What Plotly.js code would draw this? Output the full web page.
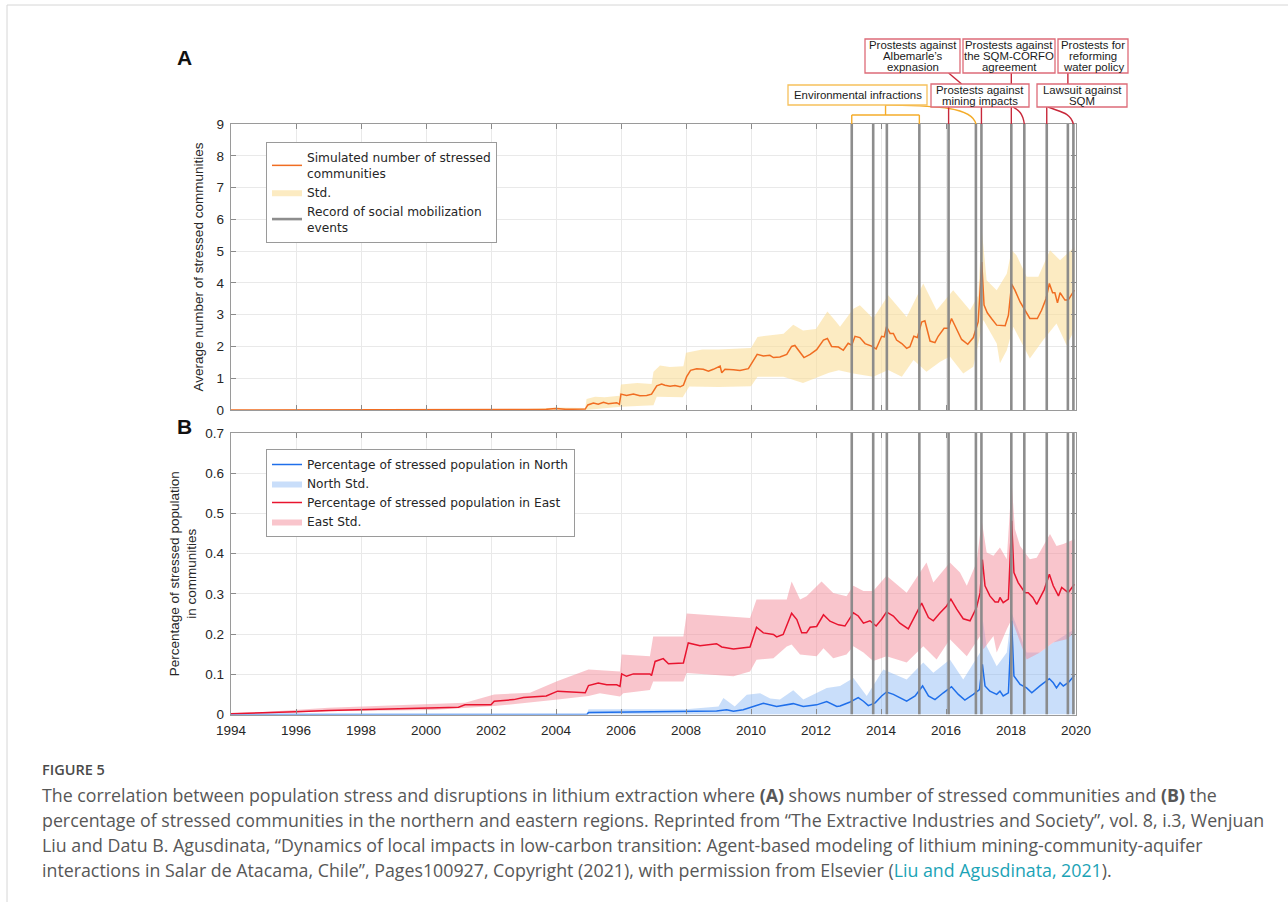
<!DOCTYPE html>
<html>
<head>
<meta charset="utf-8">
<script src="https://cdn.plot.ly/plotly-3.0.1.min.js"></script>
<style>
html,body{margin:0;padding:0;background:#fff;}
#chart{width:1288px;height:902px;}
</style>
</head>
<body>
<div id="chart"></div>
<script>
// ---------------- DATA ----------------
// Panel A: simulated average number of stressed communities
const aYears = [1994.0, 2002.5, 2003.7, 2004.0, 2004.3, 2004.9, 2004.98, 2005.15, 2005.3, 2005.46, 2005.61, 2005.87, 2005.95, 2006.0, 2006.17, 2006.38, 2006.58, 2006.79, 2006.94, 2007.1, 2007.25, 2007.35, 2007.51, 2007.66, 2007.82, 2007.92, 2008.02, 2008.14, 2008.33, 2008.53, 2008.69, 2008.84, 2009.05, 2009.1, 2009.2, 2009.46, 2009.66, 2009.92, 2010.07, 2010.19, 2010.38, 2010.58, 2010.69, 2010.89, 2011.1, 2011.25, 2011.35, 2011.51, 2011.63, 2011.82, 2012.02, 2012.23, 2012.35, 2012.48, 2012.69, 2012.84, 2012.99, 2013.10, 2013.2, 2013.35, 2013.51, 2013.71, 2013.85, 2014.02, 2014.1, 2014.17, 2014.28, 2014.38, 2014.48, 2014.64, 2014.79, 2014.89, 2015.01, 2015.12, 2015.25, 2015.35, 2015.51, 2015.66, 2015.76, 2015.94, 2016.07, 2016.17, 2016.31, 2016.48, 2016.67, 2016.84, 2016.99, 2017.1, 2017.17, 2017.27, 2017.40, 2017.56, 2017.82, 2017.92, 2018.02, 2018.12, 2018.28, 2018.43, 2018.58, 2018.81, 2018.94, 2019.08, 2019.18, 2019.28, 2019.35, 2019.43, 2019.51, 2019.66, 2019.76, 2019.95];
const aMean = [0, 0, 0.02, 0.05, 0.02, 0.03, 0.16, 0.22, 0.18, 0.24, 0.2, 0.23, 0.18, 0.5, 0.46, 0.5, 0.45, 0.46, 0.5, 0.76, 0.82, 0.78, 0.75, 0.77, 0.73, 0.78, 1.05, 1.25, 1.3, 1.28, 1.22, 1.28, 1.38, 1.17, 1.28, 1.27, 1.24, 1.3, 1.55, 1.75, 1.7, 1.72, 1.65, 1.67, 1.75, 2.0, 2.03, 1.8, 1.65, 1.75, 1.9, 2.2, 2.25, 2.0, 1.98, 1.88, 2.1, 2.04, 2.32, 2.28, 2.09, 2.01, 1.92, 2.32, 2.3, 2.62, 2.41, 2.41, 2.2, 2.09, 1.94, 1.99, 2.32, 2.28, 2.77, 2.81, 2.17, 2.12, 2.32, 2.57, 2.57, 2.88, 2.57, 2.22, 2.07, 2.28, 2.77, 4.66, 3.3, 3.06, 2.88, 2.67, 2.65, 2.98, 3.96, 3.77, 3.4, 3.14, 2.88, 2.88, 3.14, 3.51, 3.98, 3.69, 3.69, 3.37, 3.69, 3.46, 3.46, 3.77];
const aUpYears = [1994, 2002.5, 2003.5, 2004.0, 2004.9, 2004.94, 2005.2, 2005.5, 2005.95, 2006.0, 2006.5, 2006.94, 2007.0, 2007.2, 2007.5, 2007.92, 2008.0, 2008.5, 2009.0, 2009.5, 2010.0, 2010.2, 2010.6, 2011.0, 2011.3, 2011.6, 2012.0, 2012.35, 2012.6, 2012.74, 2013.15, 2013.35, 2013.76, 2014.22, 2014.79, 2015.3, 2015.71, 2016.22, 2016.74, 2016.99, 2017.1, 2017.25, 2017.56, 2017.87, 2018.02, 2018.17, 2018.48, 2018.84, 2019.2, 2019.51, 2019.95];
const aUpper = [0, 0.01, 0.05, 0.08, 0.06, 0.35, 0.42, 0.4, 0.45, 0.8, 0.85, 0.82, 1.2, 1.4, 1.35, 1.38, 1.8, 1.9, 1.9, 1.92, 1.95, 2.3, 2.35, 2.4, 2.68, 2.5, 2.55, 3.1, 2.8, 2.62, 3.19, 3.3, 2.88, 3.61, 2.93, 3.98, 3.14, 3.77, 3.14, 3.6, 5.68, 4.08, 3.77, 4.29, 5.03, 4.87, 4.19, 4.19, 5.03, 4.71, 5.13];
const aLoYears = [1994, 2004.9, 2005.0, 2006.0, 2007.0, 2007.1, 2007.9, 2008.1, 2009.0, 2010.0, 2010.2, 2011.0, 2011.6, 2012.0, 2012.4, 2012.7, 2013.15, 2013.76, 2014.22, 2014.64, 2015.0, 2015.4, 2015.82, 2016.12, 2016.53, 2016.84, 2017.15, 2017.56, 2017.66, 2017.87, 2018.07, 2018.58, 2018.99, 2019.4, 2019.71, 2019.95];
const aLower = [0, 0, 0, 0.1, 0.15, 0.42, 0.4, 0.74, 0.72, 0.75, 1.05, 1.05, 0.85, 1.0, 1.17, 1.25, 1.15, 1.05, 1.26, 1.05, 1.57, 1.2, 1.52, 1.68, 1.15, 1.36, 2.83, 2.09, 1.47, 1.88, 2.62, 1.62, 2.2, 2.72, 2.04, 2.51];

// Panel B: East
const eYears = [1994.0, 1995.0, 1996.0, 1997.0, 1998.0, 1999.0, 2000.0, 2001.0, 2001.2, 2002.0, 2002.1, 2002.7, 2003.0, 2003.7, 2004.05, 2004.5, 2004.9, 2005.0, 2005.3, 2005.56, 2005.87, 2005.97, 2006.02, 2006.17, 2006.38, 2006.89, 2006.94, 2007.05, 2007.3, 2007.46, 2007.92, 2008.07, 2008.43, 2008.94, 2009.1, 2009.46, 2009.97, 2010.17, 2010.38, 2010.69, 2010.79, 2010.99, 2011.25, 2011.41, 2011.56, 2011.71, 2011.82, 2012.02, 2012.23, 2012.43, 2012.69, 2012.89, 2013.15, 2013.30, 2013.46, 2013.66, 2013.85, 2014.02, 2014.17, 2014.38, 2014.58, 2014.84, 2015.05, 2015.25, 2015.46, 2015.61, 2015.82, 2016.02, 2016.15, 2016.33, 2016.53, 2016.74, 2016.94, 2017.05, 2017.12, 2017.2, 2017.35, 2017.51, 2017.61, 2017.66, 2017.76, 2017.92, 2018.02, 2018.09, 2018.22, 2018.43, 2018.53, 2018.67, 2018.79, 2019.02, 2019.18, 2019.3, 2019.46, 2019.56, 2019.76, 2019.95];
const eMean = [0.002, 0.004, 0.007, 0.01, 0.012, 0.014, 0.016, 0.018, 0.024, 0.024, 0.033, 0.037, 0.042, 0.046, 0.058, 0.055, 0.054, 0.072, 0.078, 0.074, 0.074, 0.07, 0.101, 0.095, 0.101, 0.101, 0.097, 0.132, 0.139, 0.126, 0.128, 0.178, 0.171, 0.176, 0.168, 0.163, 0.168, 0.217, 0.203, 0.199, 0.193, 0.199, 0.252, 0.236, 0.203, 0.203, 0.217, 0.219, 0.248, 0.232, 0.223, 0.22, 0.253, 0.245, 0.227, 0.233, 0.22, 0.237, 0.255, 0.245, 0.227, 0.213, 0.245, 0.277, 0.241, 0.233, 0.253, 0.27, 0.287, 0.262, 0.238, 0.233, 0.266, 0.303, 0.385, 0.32, 0.295, 0.28, 0.28, 0.291, 0.278, 0.287, 0.482, 0.353, 0.328, 0.303, 0.303, 0.291, 0.274, 0.31, 0.349, 0.32, 0.295, 0.316, 0.303, 0.324];
const eUpYears = [1994, 1995, 1997, 1999, 2001.2, 2002.1, 2003.2, 2004.05, 2005.0, 2005.97, 2006.02, 2006.89, 2006.99, 2007.92, 2008.02, 2009.97, 2010.17, 2011.1, 2011.25, 2011.51, 2011.71, 2012.17, 2012.53, 2012.94, 2013.15, 2013.46, 2013.76, 2014.17, 2014.79, 2015.4, 2015.61, 2016.12, 2016.43, 2016.64, 2016.94, 2017.1, 2017.25, 2017.46, 2017.66, 2017.87, 2018.02, 2018.12, 2018.28, 2018.58, 2018.79, 2019.2, 2019.4, 2019.61, 2019.95];
const eUpper = [0.003, 0.006, 0.017, 0.022, 0.029, 0.05, 0.054, 0.083, 0.112, 0.107, 0.149, 0.145, 0.194, 0.194, 0.251, 0.24, 0.286, 0.286, 0.331, 0.286, 0.294, 0.331, 0.302, 0.294, 0.32, 0.307, 0.307, 0.345, 0.303, 0.378, 0.328, 0.378, 0.353, 0.32, 0.378, 0.482, 0.403, 0.395, 0.415, 0.386, 0.577, 0.461, 0.419, 0.386, 0.39, 0.449, 0.419, 0.424, 0.436];
const eLoYears = [1994, 1997, 2000.2, 2002.1, 2004.05, 2005.0, 2005.35, 2005.97, 2006.07, 2006.89, 2006.99, 2007.92, 2008.02, 2009.46, 2009.97, 2010.17, 2010.69, 2011.1, 2011.25, 2011.51, 2012.02, 2012.23, 2012.53, 2012.94, 2013.15, 2013.46, 2013.76, 2014.17, 2014.79, 2015.3, 2015.71, 2016.12, 2016.64, 2017.05, 2017.15, 2017.46, 2017.56, 2017.87, 2018.02, 2018.12, 2018.48, 2018.89, 2019.3, 2019.71, 2019.95];
const eLower = [0, 0.008, 0.011, 0.021, 0.037, 0.046, 0.053, 0.045, 0.053, 0.061, 0.082, 0.082, 0.103, 0.095, 0.107, 0.136, 0.14, 0.169, 0.174, 0.149, 0.145, 0.165, 0.14, 0.149, 0.17, 0.154, 0.133, 0.145, 0.129, 0.17, 0.137, 0.187, 0.145, 0.195, 0.162, 0.195, 0.154, 0.212, 0.237, 0.212, 0.137, 0.154, 0.179, 0.187, 0.203];

// Panel B: North
const nYears = [1994, 2004.95, 2005.0, 2008.0, 2008.94, 2009.25, 2009.46, 2009.76, 2010.17, 2010.38, 2010.79, 2011.1, 2011.3, 2011.61, 2012.02, 2012.33, 2012.64, 2012.74, 2013.05, 2013.3, 2013.46, 2013.61, 2013.82, 2014.02, 2014.17, 2014.38, 2014.79, 2015.05, 2015.28, 2015.46, 2015.66, 2015.92, 2016.17, 2016.38, 2016.58, 2016.84, 2017.03, 2017.12, 2017.2, 2017.35, 2017.56, 2017.66, 2017.76, 2017.92, 2018.02, 2018.09, 2018.28, 2018.48, 2018.64, 2018.89, 2019.18, 2019.3, 2019.4, 2019.51, 2019.61, 2019.76, 2019.95];
const nMean = [0, 0, 0.005, 0.007, 0.009, 0.012, 0.008, 0.012, 0.022, 0.028, 0.02, 0.024, 0.027, 0.02, 0.024, 0.032, 0.02, 0.021, 0.031, 0.042, 0.033, 0.022, 0.029, 0.046, 0.056, 0.05, 0.033, 0.046, 0.071, 0.046, 0.037, 0.054, 0.069, 0.05, 0.036, 0.05, 0.062, 0.125, 0.071, 0.058, 0.05, 0.058, 0.046, 0.054, 0.233, 0.096, 0.075, 0.066, 0.054, 0.071, 0.089, 0.079, 0.066, 0.079, 0.071, 0.079, 0.097];
const nUpYears = [1994, 2004.95, 2005.0, 2008.0, 2009.0, 2009.15, 2009.5, 2009.87, 2010.28, 2010.59, 2010.89, 2011.3, 2011.61, 2012.33, 2012.74, 2013.15, 2013.56, 2014.07, 2014.79, 2015.3, 2015.61, 2016.12, 2016.53, 2017.05, 2017.13, 2017.25, 2017.56, 2017.87, 2018.02, 2018.17, 2018.48, 2018.89, 2019.3, 2019.95];
const nUpper = [0, 0.001, 0.013, 0.013, 0.02, 0.041, 0.02, 0.049, 0.053, 0.04, 0.037, 0.06, 0.037, 0.066, 0.071, 0.091, 0.046, 0.112, 0.087, 0.129, 0.104, 0.137, 0.087, 0.154, 0.237, 0.17, 0.12, 0.154, 0.253, 0.22, 0.154, 0.154, 0.179, 0.212];
const nLoYears = [1994, 2019.95];
const nLower = [0, 0];

// Recorded social mobilization events (decimal years)
const eventYears = [2013.10, 2013.76, 2014.18, 2015.18, 2016.08, 2016.92, 2017.09, 2018.01, 2018.41, 2019.10, 2019.75, 2019.92];

// Tick labels
const xTickVals = [1994, 1996, 1998, 2000, 2002, 2004, 2006, 2008, 2010, 2012, 2014, 2016, 2018, 2020];
const aTickVals = [0, 1, 2, 3, 4, 5, 6, 7, 8, 9];
const bTickVals = [0, 0.1, 0.2, 0.3, 0.4, 0.5, 0.6, 0.7];
const bTickText = ['0', '0.1', '0.2', '0.3', '0.4', '0.5', '0.6', '0.7'];

// ---------------- HELPERS ----------------
const W = 1288, H = 902;
const px = x => x / W;
const py = y => 1 - y / H;
const FONT = 'Liberation Sans, Arial, sans-serif';
const LEGFONT = 'DejaVu Sans, Liberation Sans, sans-serif';
const CAPFONT = 'Open Sans, Noto Sans, sans-serif';

function band(xu, yu, xl, yl) {
  return { x: xu.concat(xl.slice().reverse()), y: yu.concat(yl.slice().reverse()) };
}
function eventXY(ymax) {
  const x = [], y = [];
  eventYears.forEach(e => { x.push(e, e, null); y.push(0, ymax, null); });
  return { x, y };
}

const ORANGE = '#f06d22';
const BLUE = '#1f6fea';
const RED = '#e8142f';
const EVCOL = 'rgba(135,135,135,0.95)';

const bandA = band(aUpYears, aUpper, aLoYears, aLower);
const bandN = band(nUpYears, nUpper, nLoYears, nLower);
const bandE = band(eUpYears, eUpper, eLoYears, eLower);
const evA = eventXY(9);
const evB = eventXY(0.7);

const traces = [
  { x: bandA.x, y: bandA.y, xaxis: 'x', yaxis: 'y', type: 'scatter', mode: 'lines', fill: 'toself',
    fillcolor: 'rgba(250,222,153,0.6)', line: { width: 0 }, name: 'Std.', legend: 'legend', legendrank: 2, hoverinfo: 'skip' },
  { x: aYears, y: aMean, xaxis: 'x', yaxis: 'y', type: 'scatter', mode: 'lines',
    line: { color: ORANGE, width: 1.5 }, name: 'Simulated number of stressed<br>communities', legend: 'legend', legendrank: 1 },
  { x: evA.x, y: evA.y, xaxis: 'x', yaxis: 'y', type: 'scatter', mode: 'lines',
    line: { color: EVCOL, width: 2.6 }, name: 'Record of social mobilization<br>events', legend: 'legend', legendrank: 3, hoverinfo: 'skip' },

  { x: bandN.x, y: bandN.y, xaxis: 'x2', yaxis: 'y2', type: 'scatter', mode: 'lines', fill: 'toself',
    fillcolor: 'rgba(120,172,242,0.4)', line: { width: 0 }, name: 'North Std.', legend: 'legend2', legendrank: 2, hoverinfo: 'skip' },
  { x: bandE.x, y: bandE.y, xaxis: 'x2', yaxis: 'y2', type: 'scatter', mode: 'lines', fill: 'toself',
    fillcolor: 'rgba(243,139,153,0.5)', line: { width: 0 }, name: 'East Std.', legend: 'legend2', legendrank: 4, hoverinfo: 'skip' },
  { x: nYears, y: nMean, xaxis: 'x2', yaxis: 'y2', type: 'scatter', mode: 'lines',
    line: { color: BLUE, width: 1.5 }, name: 'Percentage of stressed population in North', legend: 'legend2', legendrank: 1 },
  { x: eYears, y: eMean, xaxis: 'x2', yaxis: 'y2', type: 'scatter', mode: 'lines',
    line: { color: RED, width: 1.5 }, name: 'Percentage of stressed population in East', legend: 'legend2', legendrank: 3 },
  { x: evB.x, y: evB.y, xaxis: 'x2', yaxis: 'y2', type: 'scatter', mode: 'lines',
    line: { color: EVCOL, width: 2.6 }, showlegend: false, hoverinfo: 'skip' }
];

const axisCommon = {
  showline: true, linecolor: '#9a9a9a', linewidth: 1.4, mirror: 'ticks',
  ticks: 'inside', ticklen: 5, tickcolor: '#8a8a8a', tickwidth: 1,
  showgrid: true, gridcolor: '#e9e9e9', gridwidth: 1, zeroline: false,
  ticklabelstandoff: 3,
  tickfont: { family: FONT, size: 13.5, color: '#262626' }
};
const xDom = [px(231), px(1076)];
const legCommon = { xanchor: 'left', yanchor: 'top', bgcolor: '#fff', bordercolor: '#9a9a9a', borderwidth: 1,
  font: { family: LEGFONT, size: 12.2, color: '#262626' }, tracegroupgap: 0, itemwidth: 30 };

const layout = {
  width: W, height: H,
  margin: { l: 0, r: 0, t: 0, b: 0 },
  paper_bgcolor: '#fff', plot_bgcolor: '#fff',
  font: { family: FONT, color: '#262626' },
  showlegend: true,
  xaxis: Object.assign({}, axisCommon, { domain: xDom, anchor: 'y', range: [1994, 2020], tickvals: xTickVals, showticklabels: false }),
  yaxis: Object.assign({}, axisCommon, { domain: [py(410), py(124)], anchor: 'x', range: [0, 9], tickvals: aTickVals,
    title: { text: 'Average number of stressed communities', font: { family: FONT, size: 13.5, color: '#262626' }, standoff: 9 } }),
  xaxis2: Object.assign({}, axisCommon, { domain: xDom, anchor: 'y2', range: [1994, 2020], tickvals: xTickVals }),
  yaxis2: Object.assign({}, axisCommon, { domain: [py(714.5), py(433)], anchor: 'x2', range: [0, 0.7], tickvals: bTickVals, ticktext: bTickText,
    title: { text: 'Percentage of stressed population<br>in communities', font: { family: FONT, size: 13.5, color: '#262626' }, standoff: 5 } }),
  legend: Object.assign({}, legCommon, { x: px(266), y: py(142) }),
  legend2: Object.assign({}, legCommon, { x: px(266), y: py(449) }),
  shapes: [],
  annotations: []
};

const shapes = layout.shapes, ann = layout.annotations;

// page frame
shapes.push({ type: 'rect', xref: 'paper', yref: 'paper', x0: px(7), x1: px(1320), y0: py(960), y1: py(5),
  line: { color: '#d6d6d6', width: 1 }, fillcolor: 'rgba(0,0,0,0)', layer: 'below' });

// connectors (orange = environmental infractions, red = protests / lawsuit)
const OR = '#f4ac2a', RD = '#c8283a';
const ev = eventYears;
const envMid = (ev[0] + ev[3]) / 2;
function vline(x, y0, y1, c) { shapes.push({ type: 'line', xref: 'x', yref: 'paper', x0: x, x1: x, y0: py(y0), y1: py(y1), line: { color: c, width: 1.4 } }); }
function seg(xa, ya, xb, yb, c) { shapes.push({ type: 'line', xref: 'x', yref: 'paper', x0: xa, x1: xb, y0: py(ya), y1: py(yb), line: { color: c, width: 1.4 } }); }
function curve(xa, ya, cx1, cy1, cx2, cy2, xb, yb, c) {
  shapes.push({ type: 'path', xref: 'x', yref: 'paper', line: { color: c, width: 1.4 },
    path: `M ${xa},${py(ya)} C ${cx1},${py(cy1)} ${cx2},${py(cy2)} ${xb},${py(yb)}` });
}
vline(envMid, 104, 115, OR);
seg(ev[0], 115, ev[3], 115, OR);
vline(ev[0], 115, 124, OR);
vline(ev[3], 115, 124, OR);
curve(envMid, 105, 2015.6, 106, 2016.8, 106, ev[5], 124, OR);
// Albemarle expansion
seg(ev[4], 73, ev[4] + 0.4, 84, RD);
vline(ev[4], 107, 124, RD);
// mining impacts
vline(ev[6], 107, 124, RD);
// SQM-CORFO
vline(ev[7], 73, 84, RD);
vline(ev[7], 107, 124, RD);
curve(ev[7] + 0.05, 107, ev[7] + 0.2, 110, ev[8] - 0.05, 112, ev[8], 124, RD);
// water policy
vline(ev[10], 73, 84, RD);
// lawsuit
vline(ev[9], 107, 124, RD);
curve(ev[9] + 0.04, 107, ev[9] + 0.4, 112, ev[11] - 0.1, 112, ev[11], 124, RD);

// label boxes
function labelBox(l, t, r, b, lines, color) {
  shapes.push({ type: 'rect', xref: 'paper', yref: 'paper', x0: px(l), x1: px(r), y0: py(b), y1: py(t),
    line: { color: color, width: 1.3 }, fillcolor: '#ffffff', layer: 'above' });
  const lh = (b - t - 2) / lines.length;
  lines.forEach((s, i) => ann.push({ xref: 'paper', yref: 'paper', x: px((l + r) / 2), y: py(t + 1 + lh * (i + 0.5)),
    xanchor: 'center', yanchor: 'middle', text: s, showarrow: false,
    font: { family: FONT, size: 11.4, color: '#1a1a1a' } }));
}
const BOXRED = '#dd6b78';
labelBox(865, 39, 960, 73, ['Prostests against', 'Albemarle’s', 'expnasion'], BOXRED);
labelBox(963, 39, 1055, 73, ['Prostests against', 'the SQM-CORFO', 'agreement'], BOXRED);
labelBox(1058, 39, 1128, 73, ['Prostests for', 'reforming', 'water policy'], BOXRED);
labelBox(931, 84, 1029, 107, ['Prostests against', 'mining impacts'], BOXRED);
labelBox(1037, 84, 1127, 107, ['Lawsuit against', 'SQM'], BOXRED);
labelBox(788, 85, 927, 105, ['Environmental infractions'], '#f6c15c');

// panel letters
ann.push({ xref: 'paper', yref: 'paper', x: px(184), y: py(57), xanchor: 'center', yanchor: 'middle', showarrow: false,
  text: '<b>A</b>', font: { family: FONT, size: 21, color: '#111' } });
ann.push({ xref: 'paper', yref: 'paper', x: px(184), y: py(426), xanchor: 'center', yanchor: 'middle', showarrow: false,
  text: '<b>B</b>', font: { family: FONT, size: 21, color: '#111' } });

// caption
const capLines = [
  'The correlation between population stress and disruptions in lithium extraction where <b>(A)</b> shows number of stressed communities and <b>(B)</b> the',
  'percentage of stressed communities in the northern and eastern regions. Reprinted from “The Extractive Industries and Society”, vol. 8, i.3, Wenjuan',
  'Liu and Datu B. Agusdinata, “Dynamics of local impacts in low-carbon transition: Agent-based modeling of lithium mining-community-aquifer',
  'interactions in Salar de Atacama, Chile”, Pages100927, Copyright (2021), with permission from Elsevier (<span style="color:#1ba3b6">Liu and Agusdinata, 2021</span>).'
];
ann.push({ xref: 'paper', yref: 'paper', x: px(40), y: py(769), xanchor: 'left', yanchor: 'middle', showarrow: false,
  text: 'FIGURE 5', font: { family: CAPFONT, size: 14.5, color: '#4a4a4a', weight: 600 } });
capLines.forEach((s, i) => ann.push({ xref: 'paper', yref: 'paper', x: px(40), y: py(795 + 25 * i), xanchor: 'left', yanchor: 'middle',
  showarrow: false, text: s, font: { family: CAPFONT, size: 17.8, color: '#575757' } }));

Plotly.newPlot('chart', traces, layout, { displayModeBar: false, responsive: false });
</script>
</body>
</html>
